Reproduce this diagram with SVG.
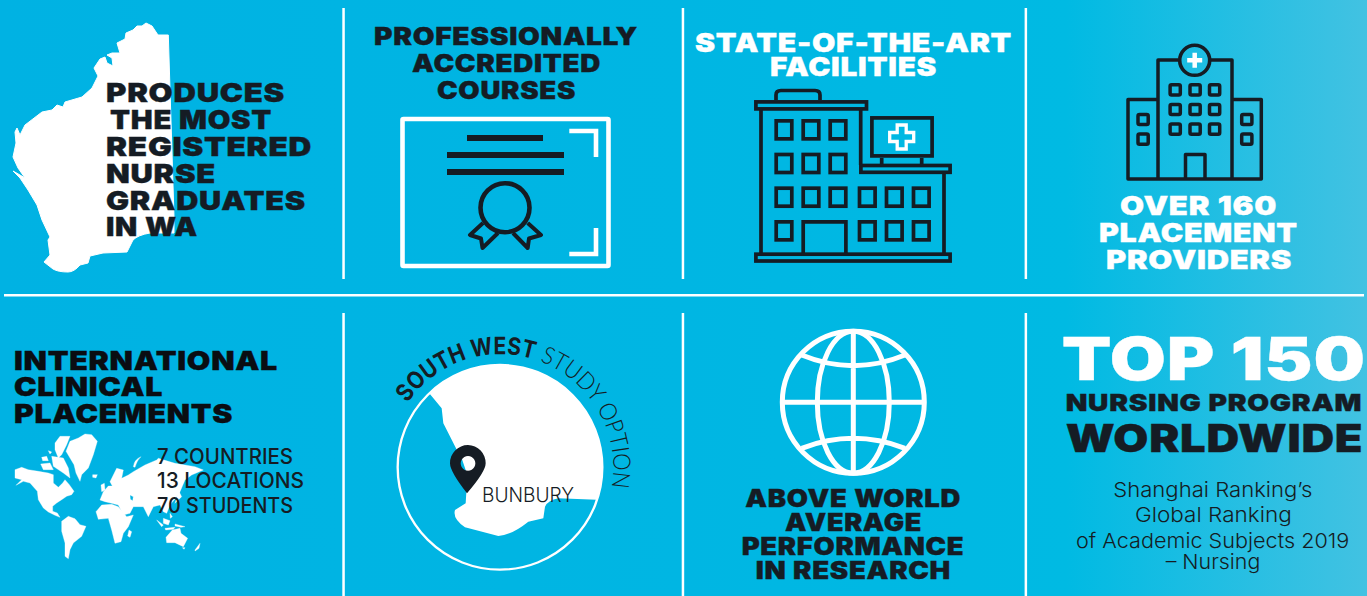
<svg xmlns="http://www.w3.org/2000/svg" width="1367" height="596" viewBox="0 0 1367 596">
<style>
.h{font-family:Inter,"Liberation Sans",sans-serif;font-weight:900;fill:#151c24;stroke:#151c24;stroke-width:.35;letter-spacing:.6px;word-spacing:.5px}
.w{fill:#fff;stroke:#fff}
.k{fill:#0a0d12;stroke:#0a0d12}
.m{font-family:Inter,"Liberation Sans",sans-serif;font-weight:500;fill:#151c24;font-size:21px}
.l{font-family:Inter,"Liberation Sans",sans-serif;font-weight:300;fill:#151c24;font-size:20.5px}
.d{fill:none;stroke:#151c24;stroke-width:3.7}
.r{fill:none;stroke:#151c24;stroke-width:3.5;stroke-linejoin:round}
.sep{fill:#fff}
.gw{fill:none;stroke:#fff;stroke-width:5}
.land{fill:#fff;stroke:#fff;stroke-width:1;stroke-linejoin:round}
</style>
<defs>
<linearGradient id="bg" x1="0" y1="0" x2="1" y2="0">
<stop offset="0" stop-color="#00b2e3"/><stop offset=".5" stop-color="#00b6e3"/><stop offset=".78" stop-color="#00bae3"/><stop offset="1" stop-color="#42c2e2"/>
</linearGradient>
<rect id="w3" width="15.6" height="18" class="d"/>
<rect id="w4" width="10.2" height="10.2" rx="1.5" class="r"/>
<path id="arc" d="M407.4 402.9A113 113 0 0 1 597.9 524.2"/>
</defs>
<rect width="1367" height="596" fill="url(#bg)"/>
<g id="separators">
<rect class="sep" x="342.3" y="8" width="2.5" height="271"/><rect class="sep" x="681.7" y="8" width="2.5" height="271"/><rect class="sep" x="1024.6" y="8" width="2.5" height="271"/>
<rect class="sep" x="4" y="294" width="1360" height="2.5"/>
<rect class="sep" x="342.3" y="313" width="2.5" height="283"/><rect class="sep" x="681.7" y="313" width="2.5" height="283"/><rect class="sep" x="1024.6" y="313" width="2.5" height="283"/>
</g>
<g id="node-wa">
<path class="land" d="M168.3 35L174 217L174 233L150 233Q138 235 133 240L127 252L103 253L90 256L88 263L80 265Q74 272 68 272Q58 272 53 269L44 262L50 255L48 240L50 237L42 220L37 205L28 190L20 178L13 171L20 175L25 178L18 168L13 157L16 143L15 132L17 128L20 135L25 125L42 112L52 110L57 105L63 107L65 102L82 97L92 88L98 76L94 68L100 59L105 57L107 63L113 66L112 58L107 55L112 53L120 53L117 43L125 39L126 33L133 30L137 26L142 26L146 23L152 26L158 35Z"/>
<g font-size="26">
<text class="h" x="106" y="102" textLength="179" lengthAdjust="spacingAndGlyphs">PRODUCES</text>
<text class="h" x="110" y="129" textLength="162" lengthAdjust="spacingAndGlyphs">THE MOST</text>
<text class="h" x="106" y="156" textLength="206" lengthAdjust="spacingAndGlyphs">REGISTERED</text>
<text class="h" x="106" y="183" textLength="110" lengthAdjust="spacingAndGlyphs">NURSE</text>
<text class="h" x="106" y="210" textLength="200" lengthAdjust="spacingAndGlyphs">GRADUATES</text>
<text class="h" x="106" y="236" textLength="92" lengthAdjust="spacingAndGlyphs">IN WA</text>
</g>
</g>
<g id="node-accredited">
<g font-size="24">
<text class="h" x="374" y="45" textLength="264" lengthAdjust="spacingAndGlyphs">PROFESSIONALLY</text>
<text class="h" x="412" y="72" textLength="189" lengthAdjust="spacingAndGlyphs">ACCREDITED</text>
<text class="h" x="437" y="98.7" textLength="139" lengthAdjust="spacingAndGlyphs">COURSES</text>
</g>
<rect x="402.5" y="119" width="206" height="147" rx="1" fill="none" stroke="#fff" stroke-width="4.6"/>
<path d="M569.3 131H596V157M596 228V254H569.3" fill="none" stroke="#fff" stroke-width="4.6"/>
<path d="M467 138H543M447 155H564M447 172H564" fill="none" stroke="#151c24" stroke-width="6"/>
<circle cx="505" cy="207.7" r="24.5" fill="none" stroke="#151c24" stroke-width="4.6"/>
<path d="M483 223L470 235L481 238.5L482.5 248L498 233M527.7 223L541 235L529 238.5L527.7 248L513 233" fill="none" stroke="#151c24" stroke-width="4" stroke-linejoin="round"/>
</g>
<g id="node-facilities">
<g font-size="26">
<text class="h w" x="695" y="51.7" textLength="317" lengthAdjust="spacingAndGlyphs">STATE-OF-THE-ART</text>
<text class="h w" x="770" y="75.7" textLength="167" lengthAdjust="spacingAndGlyphs">FACILITIES</text>
</g>
<path class="d" d="M776 100V95Q776 90.5 781 90.5H815Q820 90.5 820 95V100"/>
<rect class="d" x="755.9" y="101.9" width="110.6" height="7"/>
<path class="d" d="M761 109V253M860.7 109V165M944 174V253M803.2 253V221.9H845.9V253"/>
<rect class="d" x="860.9" y="165.5" width="89.2" height="6.8"/>
<rect class="d" x="755.9" y="254.2" width="194.2" height="6.8"/>
<rect class="d" x="871.9" y="117.9" width="60.2" height="38"/>
<path class="d" d="M881.7 158V164M921.7 158V164"/>
<path fill="none" stroke="#fff" stroke-width="3.3" d="M897.2 125H906.2V132.5H913.7V141.5H906.2V149H897.2V141.5H889.7V132.5H897.2Z"/>
<use href="#w3" x="776.2" y="120.85"/><use href="#w3" x="803.2" y="120.85"/><use href="#w3" x="830.2" y="120.85"/>
<use href="#w3" x="776.2" y="154.5"/><use href="#w3" x="803.2" y="154.5"/><use href="#w3" x="830.2" y="154.5"/>
<use href="#w3" x="776.2" y="188.2"/><use href="#w3" x="803.2" y="188.2"/><use href="#w3" x="830.2" y="188.2"/><use href="#w3" x="859.5" y="188.2"/><use href="#w3" x="886.5" y="188.2"/><use href="#w3" x="913.5" y="188.2"/>
<use href="#w3" x="776.2" y="221.85"/><use href="#w3" x="859.5" y="221.85"/><use href="#w3" x="886.5" y="221.85"/><use href="#w3" x="913.5" y="221.85"/>
</g>
<g id="node-providers">
<path class="r" d="M1178 60H1158V179M1211 60H1232V179M1158 99.5H1128V179H1261.3V99.5H1232"/>
<circle cx="1194.7" cy="60.3" r="15" fill="none" stroke="#151c24" stroke-width="3.6"/>
<path d="M1187.2 60.3H1202.2M1194.7 52.8V67.8" stroke="#fff" stroke-width="4.5" fill="none"/>
<path class="r" d="M1185.5 179V154.5H1205V179"/>
<use href="#w4" x="1170.1" y="84.75"/><use href="#w4" x="1190" y="84.75"/><use href="#w4" x="1209.5" y="84.75"/>
<use href="#w4" x="1170.1" y="104.4"/><use href="#w4" x="1190" y="104.4"/><use href="#w4" x="1209.5" y="104.4"/>
<use href="#w4" x="1170.1" y="124"/><use href="#w4" x="1190" y="124"/><use href="#w4" x="1209.5" y="124"/>
<use href="#w4" x="1138" y="114.4"/><use href="#w4" x="1138" y="134.1"/><use href="#w4" x="1241.7" y="114.4"/><use href="#w4" x="1241.7" y="134.1"/>
<g font-size="26">
<text class="h w" x="1120" y="215" textLength="157" lengthAdjust="spacingAndGlyphs">OVER 160</text>
<text class="h w" x="1099" y="242" textLength="198.7" lengthAdjust="spacingAndGlyphs">PLACEMENT</text>
<text class="h w" x="1106" y="269" textLength="186" lengthAdjust="spacingAndGlyphs">PROVIDERS</text>
</g>
</g>
<g id="node-international">
<g transform="translate(10 428) scale(.33333)" class="land">
<path d="M15 125L35 118L55 125L85 130L115 135L130 140L130 165L145 178L158 165L165 155L178 170L192 190L185 200L170 205L155 215L140 225L128 235L128 250L142 255L150 268L135 262L115 252L100 240L85 215L82 190L60 165L40 160L18 172L35 155L15 150Z"/>
<path d="M168 70L180 40L205 30L225 18L245 20L262 40L250 80L235 120L215 140L210 160L198 135L192 110L180 90Z"/>
<path d="M135 45L150 25L180 25L170 50L155 80L145 90L135 65ZM115 68L125 72L120 78ZM95 88L110 85L115 98L98 98ZM92 108L120 105L130 125L100 125ZM125 85L160 90L175 120L180 150L160 135L130 115ZM248 140L262 140L258 150L248 148Z"/>
<path d="M155 280L175 265L195 272L210 290L228 295L215 325L190 345L180 365L175 392L165 385L165 345L155 310Z"/>
</g>
<g transform="translate(95 450) scale(.33333)" class="land">
<path fill-rule="evenodd" d="M15 150L25 125L40 108L52 108L45 95L65 55L85 60L80 85L100 75L115 65L150 45L185 30L190 25L240 40L300 50L325 60L290 75L270 90L255 125L250 135L225 165L215 190L205 185L195 165L175 170L160 200L145 170L115 170L105 190L85 195L70 165L50 160L30 155ZM105 135L115 140L113 152L106 148Z"/>
<path d="M3 185L20 165L50 163L70 170L95 200L115 195L100 230L85 250L78 275L60 280L50 240L40 205L10 208Z"/>
<path d="M102 240L110 245L105 262L98 258ZM115 50Q118 28 138 20Q125 32 120 52ZM213 262L232 240L255 235L258 250L278 265L265 290L240 278L215 278ZM262 293L270 293L267 298ZM300 300L315 280L312 295L300 303ZM185 210L205 225L200 230ZM205 205L225 212L220 225L205 220ZM210 235L240 232L235 238L212 240ZM240 222L270 230L258 232L240 228ZM225 190L232 200L226 205ZM250 120L260 140L250 150L240 160L245 145ZM18 105L28 100L30 120L20 125Z"/>
</g>
<g font-size="26">
<text class="h k" x="14" y="370" textLength="264" lengthAdjust="spacingAndGlyphs">INTERNATIONAL</text>
<text class="h k" x="14" y="396" textLength="149" lengthAdjust="spacingAndGlyphs">CLINICAL</text>
<text class="h k" x="14" y="423" textLength="219" lengthAdjust="spacingAndGlyphs">PLACEMENTS</text>
</g>
<text class="m" x="157" y="463.6" textLength="136" lengthAdjust="spacingAndGlyphs">7 COUNTRIES</text>
<text class="m" x="157" y="488.2" textLength="147" lengthAdjust="spacingAndGlyphs">13 LOCATIONS</text>
<text class="m" x="157" y="513" textLength="136" lengthAdjust="spacingAndGlyphs">70 STUDENTS</text>
</g>
<g id="node-southwest">
<g transform="translate(345 320) scale(.33333)">
<path fill="#fff" d="M254 221L290 265L295 310L333 385L350 415L362 450L365 500L362 550L330 570Q322 595 360 622L460 648Q500 645 550 605L595 595L600 560Q610 540 640 535L755 539A305 305 0 0 0 254 221Z"/>
<circle cx="465" cy="442" r="307" fill="none" stroke="#fff" stroke-width="7"/>
<path fill="#151c24" fill-rule="evenodd" d="M369 375A54 54 0 0 1 422 430Q422 455 366 520Q315 455 315 430A54 54 0 0 1 369 375ZM369 408A22 22 0 1 0 369.1 408Z"/>
</g>
<text class="l" x="482" y="502" textLength="92" lengthAdjust="spacingAndGlyphs" font-size="21">BUNBURY</text>
<text font-family="Inter,'Liberation Sans',sans-serif" font-size="24" font-weight="700" fill="#151c24" textLength="143" lengthAdjust="spacingAndGlyphs"><textPath href="#arc">SOUTH WEST</textPath></text>
<text font-family="Lato,'Liberation Sans',sans-serif" font-size="24" font-weight="300" fill="#151c24" textLength="158" lengthAdjust="spacingAndGlyphs"><textPath href="#arc" startOffset="149">STUDY OPTION</textPath></text>
</g>
<g id="node-research">
<circle class="gw" cx="853.3" cy="402.3" r="71"/>
<ellipse class="gw" cx="853.3" cy="402.3" rx="36" ry="71"/>
<path class="gw" d="M853.3 331V473.3M782.3 402.3H924.3M801.7 355Q853.3 376.4 905 355M801.7 448.3Q853.3 428.3 905 448.3"/>
<g font-size="24">
<text class="h" x="745.3" y="507" textLength="215.7" lengthAdjust="spacingAndGlyphs">ABOVE WORLD</text>
<text class="h" x="785" y="531" textLength="137" lengthAdjust="spacingAndGlyphs">AVERAGE</text>
<text class="h" x="741.7" y="555" textLength="222.6" lengthAdjust="spacingAndGlyphs">PERFORMANCE</text>
<text class="h" x="755.7" y="579" textLength="195.3" lengthAdjust="spacingAndGlyphs">IN RESEARCH</text>
</g>
</g>
<g id="node-top150">
<text class="h w" x="1061.7" y="380" font-size="59" textLength="304" lengthAdjust="spacingAndGlyphs">TOP 150</text>
<text class="h" x="1065.7" y="411" font-size="23.5" textLength="296.5" lengthAdjust="spacingAndGlyphs">NURSING PROGRAM</text>
<text class="h" x="1065.7" y="452.3" font-size="38" textLength="297.6" lengthAdjust="spacingAndGlyphs">WORLDWIDE</text>
<text class="l" x="1113.3" y="496.7" textLength="199" lengthAdjust="spacingAndGlyphs">Shanghai Ranking’s</text>
<text class="l" x="1135" y="522.3" textLength="156.7" lengthAdjust="spacingAndGlyphs">Global Ranking</text>
<text class="l" x="1076" y="547.7" textLength="273.3" lengthAdjust="spacingAndGlyphs">of Academic Subjects 2019</text>
<text class="l" x="1165.7" y="569.3" textLength="94.6" lengthAdjust="spacingAndGlyphs">– Nursing</text>
</g>
</svg>
